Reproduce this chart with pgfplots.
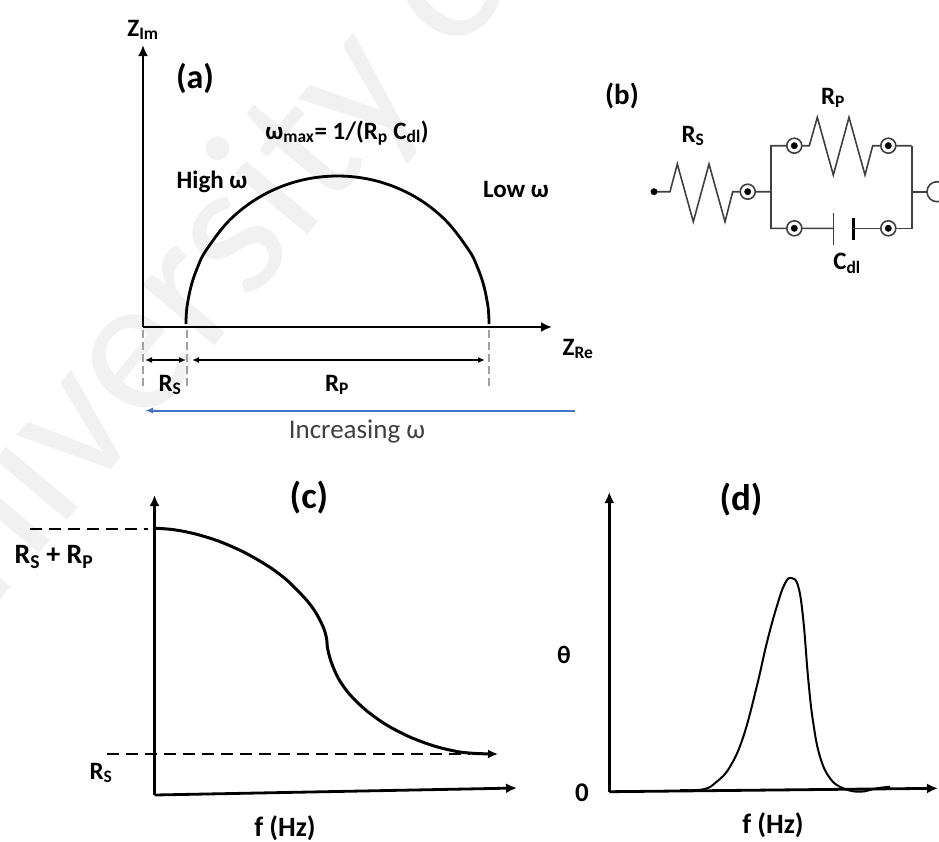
\documentclass[border=0pt]{standalone}
\usepackage{pgfplots}
\pgfplotsset{compat=1.18}
\usepackage{fontspec}
\setmainfont{Carlito}
\usetikzlibrary{arrows.meta}
\definecolor{wm}{HTML}{F1F1F1}
\definecolor{circ}{HTML}{404040}
\definecolor{dgray}{HTML}{A0A0A0}
\definecolor{inc}{HTML}{4472C4}
\newcommand\fs[1]{\fontsize{#1}{#1}\selectfont}
\newcommand\sub[1]{\textsubscript{#1}}
\tikzset{
  ax/.style={line width=2.8pt,-{Latex[length=11pt,width=10pt]}},
  lab/.style={font=\fs{25}\bfseries,text=black,inner sep=0pt,anchor=center},
  big/.style={font=\fs{37}\bfseries,text=black,inner sep=0pt,anchor=center}
}
\begin{document}
\begin{tikzpicture}
\begin{axis}[
  scale only axis,width=939pt,height=841pt,
  xmin=0,xmax=939,ymin=0,ymax=841,y dir=reverse,
  axis lines=none,ticks=none,clip=true,anchor=south west,at={(0,0)}
]
% watermark
\node[overlay,rotate=50,font=\fs{197},text=wm,inner sep=0pt] at (axis cs:196,287) {University of};

% ---------- panel (a)
\addplot[ax,black] coordinates {(143,327) (143,45)};
\addplot[ax,black] coordinates {(143,327) (552,327)};
\addplot[black,line width=2.8pt,smooth,tension=0.6] coordinates {
 (186,324) (186.2,316.3) (187.3,304.7) (191.2,285.7) (197.5,267.4) (206.3,250) (230.4,219.3) (261.8,195.8) (298.3,181) (337.5,176)
 (376.7,181) (413.3,195.8) (444.6,219.3) (468.7,250) (477.5,267.4) (483.8,285.7) (487.7,304.7) (488.8,316.3) (489,324)};
\addplot[dgray,line width=1.8pt,dash pattern=on 8pt off 4pt] coordinates {(143,330) (143,386)};
\addplot[dgray,line width=1.8pt,dash pattern=on 8pt off 4pt] coordinates {(187,330) (187,386)};
\addplot[dgray,line width=1.8pt,dash pattern=on 8pt off 4pt] coordinates {(489,330) (489,386)};
\addplot[black,line width=1.4pt,{Latex[length=7pt,width=6pt]}-{Latex[length=7pt,width=6pt]}] coordinates {(145,360) (186,360)};
\addplot[black,line width=1.4pt,{Latex[length=7pt,width=6pt]}-{Latex[length=7pt,width=6pt]}] coordinates {(192,360) (485,360)};
\addplot[inc,line width=2pt,-{Latex[length=8pt,width=6pt]}] coordinates {(575,410.5) (145,410.5)};
\node[lab] at (axis cs:143,30) {Z\sub{Im}};
\node[big,font=\fs{34}\bfseries] at (axis cs:195,78) {(a)};
\node[lab] at (axis cs:347,133) {ω\sub{max}= 1/(R\sub{p} C\sub{dl})};
\node[lab] at (axis cs:212,182) {High ω};
\node[lab] at (axis cs:516,189) {Low ω};
\node[lab] at (axis cs:578,349) {Z\sub{Re}};
\node[lab] at (axis cs:170,385) {R\sub{S}};
\node[lab] at (axis cs:337,385) {R\sub{P}};
\node[lab,font=\fs{27}\mdseries,text=black!75] at (axis cs:357,432) {Increasing ω};

% ---------- panel (b)
\addplot[circ,line width=1.6pt] coordinates {(654,191.7) (670,191.7) (677.3,164) (693.3,221.7) (709,164) (725,221.7) (732.7,191.7) (771,191.7)};
\addplot[circ,line width=1.6pt] coordinates {(911.7,145.7) (880,145.7) (872.7,145.7) (865,175) (849,117.3) (833.3,175) (817.3,117.3) (809.3,145.7) (771,145.7) (771,228.3) (833.3,228.3)};
\addplot[circ,line width=1.6pt] coordinates {(833.3,212.7) (833.3,245)};
\addplot[black,line width=3.2pt] coordinates {(853.3,218.3) (853.3,240)};
\addplot[circ,line width=1.6pt] coordinates {(853.3,228.3) (911.7,228.3) (911.7,145.7)};
\addplot[circ,line width=1.6pt] coordinates {(911.7,191.7) (927,191.7)};
\addplot[only marks,mark=*,mark size=3.2pt,mark options={fill=black,draw=black}] coordinates {(654,191.7)};
\addplot[only marks,mark=*,mark size=7.5pt,mark options={fill=white,draw=circ,line width=1.6pt}] coordinates {(747.7,191.7) (794.3,145.7) (888.3,145.7) (794.3,228.3) (888.3,228.3)};
\addplot[only marks,mark=*,mark size=3.2pt,mark options={fill=black,draw=black}] coordinates {(747.7,191.7) (794.3,145.7) (888.3,145.7) (794.3,228.3) (888.3,228.3)};
\addplot[only marks,mark=*,mark size=10pt,mark options={fill=white,draw=circ,line width=1.6pt}] coordinates {(937,191.7)};
\node[big,font=\fs{29}\bfseries] at (axis cs:622,96) {(b)};
\node[lab] at (axis cs:693,136) {R\sub{S}};
\node[lab] at (axis cs:833,98) {R\sub{P}};
\node[lab] at (axis cs:847,263) {C\sub{dl}};

% ---------- panel (c)
\addplot[ax,black] coordinates {(154.5,795) (154.5,495)};
\addplot[ax,black] coordinates {(154.5,795) (517,788)};
\addplot[black,line width=2pt,dash pattern=on 12pt off 7pt] coordinates {(29.7,529.3) (148,529.3)};
\addplot[black,line width=2pt,dash pattern=on 12pt off 7pt] coordinates {(106.5,754) (470,754)};
\addplot[black,line width=3pt,smooth,tension=0.7,-{Latex[length=10pt,width=9pt]}] coordinates {
 (154.5,528.3) (175.8,530) (202.8,536) (229.9,545.7) (256.9,559.3) (280.6,575) (298,591)
 (312,607) (321.5,623.3) (326.2,636.7) (327.9,650) (333,666.7) (341.4,683.3) (355,700)
 (375.2,717.3) (398.9,731.7) (426,743.3) (453,750.7) (473.3,753.3) (498,754)};
\node[big] at (axis cs:309,498) {(c)};
\node[lab,font=\fs{28}\bfseries] at (axis cs:54,557) {R\sub{S} + R\sub{P}};
\node[lab] at (axis cs:101,773) {R\sub{S}};
\node[lab,font=\fs{28}\bfseries] at (axis cs:285,828) {f (Hz)};

% ---------- panel (d)
\addplot[ax,black] coordinates {(609.3,791.7) (609.3,492)};
\addplot[ax,black] coordinates {(609.3,791.7) (938,788.3)};
\addplot[black,line width=2pt,smooth,tension=0.7] coordinates {
 (680,790) (703.3,789.3) (716.7,781.7) (730,766.7) (743.3,736.7) (756.7,686.7) (766.7,643.3)
 (776.7,606.7) (785,583.3) (791.7,578) (798.3,586.7) (803.3,620) (808.3,680) (813.3,723.3)
 (820,756.7) (830,778.3) (843.3,788.3) (860,791.7) (876.7,788.3) (890,786.7)};
\node[big] at (axis cs:741,500) {(d)};
\node[lab] at (axis cs:564,655) {θ};
\node[lab,font=\fs{27}\bfseries] at (axis cs:582,793) {0};
\node[lab,font=\fs{28}\bfseries] at (axis cs:773,825) {f (Hz)};
\end{axis}
\pgfresetboundingbox
\path[use as bounding box] (0,0) rectangle (939pt,841pt);
\end{tikzpicture}
\end{document}
